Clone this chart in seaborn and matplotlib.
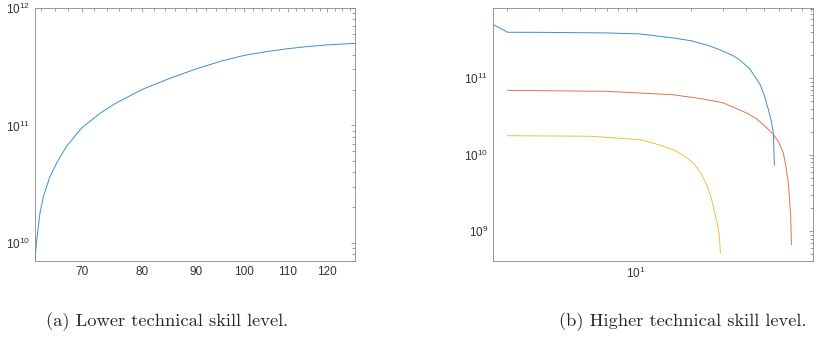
import numpy as np
import pandas as pd
import seaborn as sns
import matplotlib
matplotlib.use('Agg')
import matplotlib.pyplot as plt
from matplotlib.ticker import FixedLocator, ScalarFormatter, LogLocator, NullFormatter


# panel (a): lower technical skill level
left_x = [63.2, 63.4, 63.9, 64.4, 65.3, 66.3, 67.7, 70, 72.9, 75.5, 80, 85, 90, 95,
          100, 105, 110, 115, 120, 127.5]
left_y = [7e9, 1.0e10, 1.8e10, 2.5e10, 3.65e10, 4.8e10, 6.6e10, 9.5e10, 1.27e11, 1.55e11,
          2.03e11, 2.52e11, 3.03e11, 3.52e11, 3.95e11, 4.25e11, 4.5e11, 4.7e11, 4.85e11, 5.0e11]
left_xticks = [70, 80, 90, 100, 110, 120]

# panel (b): higher technical skill level, three series
blue_x = [1.7, 2.02, 3.03, 6.98, 10.6, 16.0, 20, 24.4, 28.5, 33.9, 37, 41.8, 44.5,
          47.4, 50, 52.6, 54.5, 56.0, 56.7]
blue_y = [5.0e11, 4.0e11, 3.99e11, 3.92e11, 3.8e11, 3.37e11, 3.1e11, 2.72e11, 2.38e11,
          1.97e11, 1.72e11, 1.32e11, 1.05e11, 8.3e10, 6.0e10, 3.9e10, 2.8e10, 1.93e10, 7.3e9]
orange_x = [2.02, 6.98, 16, 23, 30, 40, 45, 49.4, 52.5, 56, 60, 63.4, 65.5, 67.5,
            68.6, 69.5, 70.2]
orange_y = [6.97e10, 6.76e10, 6.1e10, 5.4e10, 4.77e10, 3.53e10, 3.0e10, 2.48e10, 2.15e10,
            1.85e10, 1.45e10, 1.06e10, 7.0e9, 4.3e9, 2.6e9, 1.57e9, 6.7e8]
yellow_x = [2.02, 5.66, 10.6, 13, 16, 18.5, 20.6, 22.5, 24.4, 25.8, 26.9, 27.7, 28.4, 28.9]
yellow_y = [1.78e10, 1.75e10, 1.58e10, 1.38e10, 1.17e10, 9.6e9, 7.8e9, 5.9e9, 4.0e9,
            2.7e9, 1.74e9, 1.3e9, 9.5e8, 5.2e8]

captions = ['(a) Lower technical skill level.', '(b) Higher technical skill level.']

BLUE, ORANGE, YELLOW = '#3A8FD0', '#E0744A', '#EFBF45'

sns.set_style('white')
plt.rcParams['font.family'] = ['Liberation Sans', 'DejaVu Sans']
plt.rcParams['xtick.direction'] = 'in'
plt.rcParams['ytick.direction'] = 'in'
plt.rcParams['xtick.top'] = True
plt.rcParams['ytick.right'] = True

fig = plt.figure(figsize=(8.17, 3.39), dpi=100)
ax1 = fig.add_axes([0.0428, 0.2301, 0.3917, 0.7463])
ax2 = fig.add_axes([0.6038, 0.2301, 0.3910, 0.7463])

sns.lineplot(x=left_x, y=left_y, ax=ax1, color=BLUE, lw=0.7, estimator=None, sort=False)
for xs, ys, c in [(blue_x, blue_y, BLUE), (orange_x, orange_y, ORANGE), (yellow_x, yellow_y, YELLOW)]:
    sns.lineplot(x=xs, y=ys, ax=ax2, color=c, lw=0.7, estimator=None, sort=False)

for ax in (ax1, ax2):
    ax.set_xscale('log')
    ax.set_yscale('log')
    for s in ax.spines.values():
        s.set_color('#888888')
        s.set_linewidth(0.6)
    ax.tick_params(which='both', colors='#777777', labelcolor='#333333', labelsize=8.5, width=0.5)
    ax.tick_params(which='major', length=3)
    ax.tick_params(which='minor', length=2)
    ax.yaxis.set_major_locator(LogLocator(base=10))
    ax.yaxis.set_minor_locator(LogLocator(base=10, subs=np.arange(2, 10)))
    ax.yaxis.set_minor_formatter(NullFormatter())

ax1.set_xlim(63.2, 127.5)
ax1.set_ylim(7e9, 1e12)
ax1.xaxis.set_major_locator(FixedLocator(left_xticks))
ax1.xaxis.set_major_formatter(ScalarFormatter())
ax1.xaxis.set_minor_locator(FixedLocator(np.arange(62, 128, 2)))
ax1.xaxis.set_minor_formatter(NullFormatter())

ax2.set_xlim(1.69, 91.6)
ax2.set_ylim(4.1e8, 8.3e11)
ax2.xaxis.set_major_locator(LogLocator(base=10))
ax2.xaxis.set_minor_locator(LogLocator(base=10, subs=np.arange(2, 10)))
ax2.xaxis.set_minor_formatter(NullFormatter())

fig.text(0.205, 0.05, captions[0], ha='center', va='center', family='cmr10', fontsize=13.3)
fig.text(0.835, 0.05, captions[1], ha='center', va='center', family='cmr10', fontsize=13.3)

fig.savefig('out.png', dpi=100)
